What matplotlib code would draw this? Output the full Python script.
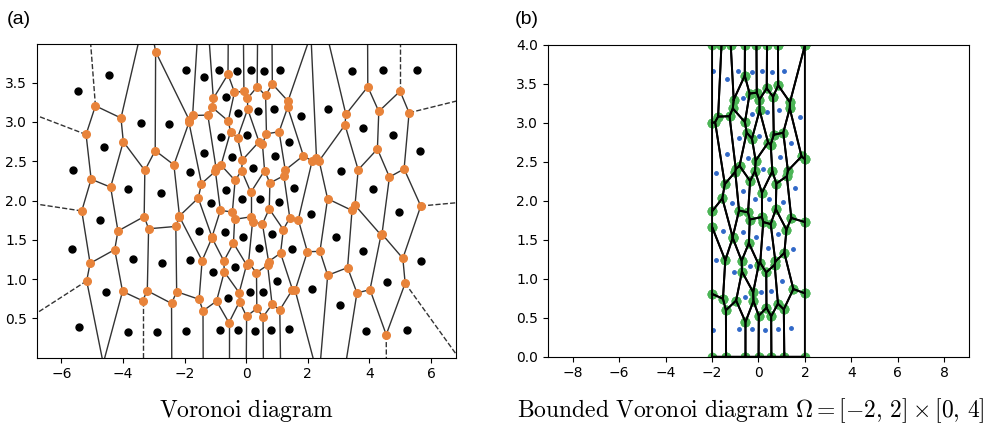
import matplotlib
matplotlib.use('Agg')
import matplotlib.pyplot as plt
import matplotlib.tri as mtri
from matplotlib.collections import LineCollection
import numpy as np

plt.rcParams['mathtext.fontset'] = 'cm'

# 生成点 (从图 (a) 读出)
pts_x = [-1.94, -1.37, -0.88, -0.30, 0.14, 0.58, 1.11, 3.44, 4.45, 5.54,
         -4.44, -5.46, -0.66, -0.28, 0.38, 0.90, 1.78, 2.65, -3.41, -2.49,
         3.80, 4.76, 5.64, -4.61, 0.03, -0.83, 1.38, -1.36, -0.47, 0.94,
         -5.61, -1.82, 0.21, 3.08, -3.85, -2.75, -0.65, 1.56, 4.13, -0.15,
         -1.14, 0.45, 1.06, 2.11, 4.97, -4.76, -1.54, -0.68, -0.12, 0.83,
         2.92, 0.40, 1.49, 3.78, -5.67, -3.66, -2.72, -1.82, 5.69, -0.36,
         -1.07, 1.00, 2.12, 4.56, 0.13, 0.55, -4.56, -0.58, 3.05, -5.42,
         -3.83, -2.90, -1.94, -0.86, -0.26, 0.28, 0.82, 1.38, 3.88, 5.21]
pts_y = [3.66, 3.57, 3.66, 3.65, 3.66, 3.65, 3.66, 3.65, 3.66, 3.66,
         3.59, 3.39, 3.32, 3.11, 3.14, 3.17, 3.07, 3.17, 2.98, 2.97,
         2.92, 2.83, 2.63, 2.68, 2.83, 2.81, 2.74, 2.60, 2.55, 2.56,
         2.39, 2.36, 2.41, 2.38, 2.14, 2.10, 2.13, 2.16, 2.14, 2.02,
         1.97, 2.02, 1.98, 1.83, 1.86, 1.75, 1.61, 1.60, 1.53, 1.58,
         1.53, 1.40, 1.38, 1.36, 1.38, 1.26, 1.21, 1.24, 1.23, 1.16,
         1.09, 0.97, 0.87, 0.96, 0.83, 0.84, 0.83, 0.76, 0.67, 0.39,
         0.33, 0.33, 0.34, 0.35, 0.35, 0.34, 0.35, 0.37, 0.335, 0.35]

# 边界框 Omega = [-2, 2] x [0, 4]
box = [-2.0, 2.0, 0.0, 4.0]

captions = [r'$\mathrm{Voronoi\ diagram}$',
            r'$\mathrm{Bounded\ Voronoi\ diagram}\ \Omega=[-2,\,2]\times[0,\,4]$']


def circumcenters(p, tris):
    a, b, c = p[tris[:, 0]], p[tris[:, 1]], p[tris[:, 2]]
    d = 2 * (a[:, 0] * (b[:, 1] - c[:, 1]) + b[:, 0] * (c[:, 1] - a[:, 1]) + c[:, 0] * (a[:, 1] - b[:, 1]))
    a2 = (a ** 2).sum(1)
    b2 = (b ** 2).sum(1)
    c2 = (c ** 2).sum(1)
    ux = (a2 * (b[:, 1] - c[:, 1]) + b2 * (c[:, 1] - a[:, 1]) + c2 * (a[:, 1] - b[:, 1])) / d
    uy = (a2 * (c[:, 0] - b[:, 0]) + b2 * (a[:, 0] - c[:, 0]) + c2 * (b[:, 0] - a[:, 0])) / d
    return np.column_stack([ux, uy])


pts = np.column_stack([pts_x, pts_y])

fig = plt.figure(figsize=(9.98, 4.36), dpi=100)
ax1 = fig.add_axes([0.0371, 0.180, 0.4198, 0.719])
ax2 = fig.add_axes([0.5488, 0.1819, 0.4224, 0.7149])

# ---- (a) 普通 Voronoi 图 ----
tri = mtri.Triangulation(pts[:, 0], pts[:, 1])
verts = circumcenters(pts, tri.triangles)
center = pts.mean(axis=0)
ptp = np.ptp(pts, axis=0)
far_len = ptp.max() * abs(ptp.max() / ptp.min())

finite, infinite = [], []
for i in range(len(tri.triangles)):
    for j in range(3):
        nb = tri.neighbors[i, j]
        p0 = tri.triangles[i, j]
        p1 = tri.triangles[i, (j + 1) % 3]
        if nb == -1:
            t = pts[p1] - pts[p0]
            t = t / np.linalg.norm(t)
            n = np.array([-t[1], t[0]])
            mid = (pts[p0] + pts[p1]) / 2
            direction = np.sign(np.dot(mid - center, n)) * n
            infinite.append([verts[i], verts[i] + direction * far_len])
        elif nb > i:
            finite.append([verts[i], verts[nb]])

ax1.add_collection(LineCollection(finite, colors='#333333', linewidths=1.0))
ax1.add_collection(LineCollection(infinite, colors='#333333', linewidths=1.0, linestyles='dashed'))
ax1.plot(pts[:, 0], pts[:, 1], 'o', color='black', markersize=5, zorder=3)
ax1.plot(verts[:, 0], verts[:, 1], 'o', color='#e8833a', markersize=5.5, zorder=3)
ax1.set_xlim(-6.79, 6.81)
ax1.set_ylim(0.003, 3.99)
ax1.set_xticks([-6, -4, -2, 0, 2, 4, 6])
ax1.set_yticks([0.5, 1.0, 1.5, 2.0, 2.5, 3.0, 3.5])

# ---- (b) 有界 Voronoi 图：镜像法 ----
inside = ((pts[:, 0] >= box[0]) & (pts[:, 0] <= box[1]) &
          (pts[:, 1] >= box[2]) & (pts[:, 1] <= box[3]))
bp = pts[inside]
mirrored = np.vstack([bp,
                      np.column_stack([2 * box[0] - bp[:, 0], bp[:, 1]]),
                      np.column_stack([2 * box[1] - bp[:, 0], bp[:, 1]]),
                      np.column_stack([bp[:, 0], 2 * box[2] - bp[:, 1]]),
                      np.column_stack([bp[:, 0], 2 * box[3] - bp[:, 1]])])
btri = mtri.Triangulation(mirrored[:, 0], mirrored[:, 1])
bverts = circumcenters(mirrored, btri.triangles)

regions = []
for k in range(len(bp)):
    owned = np.any(btri.triangles == k, axis=1)
    region = bverts[owned]
    ang = np.arctan2(region[:, 1] - bp[k, 1], region[:, 0] - bp[k, 0])
    regions.append(region[np.argsort(ang)])

ax2.plot(bp[:, 0], bp[:, 1], '.', color='#3068c8', markersize=5)
for region in regions:
    ax2.plot(region[:, 0], region[:, 1], 'o', color='#4cb556', markersize=6)
for region in regions:
    closed = np.vstack([region, region[:1]])
    ax2.plot(closed[:, 0], closed[:, 1], '-', color='black', linewidth=1.4)
ax2.set_xlim(-9.08, 9.08)
ax2.set_ylim(0, 4)
ax2.set_xticks([-8, -6, -4, -2, 0, 2, 4, 6, 8])
ax2.set_yticks(np.arange(0, 4.01, 0.5))

for ax in (ax1, ax2):
    ax.tick_params(labelsize=10)

fig.text(7 / 998, 1 - 19 / 436, '(a)', ha='left', va='center', fontsize=14, family='Liberation Sans')
fig.text(515 / 998, 1 - 19 / 436, '(b)', ha='left', va='center', fontsize=14, family='Liberation Sans')
fig.text(0.2465, 0.058, captions[0], ha='center', va='center', fontsize=17)
fig.text(0.7525, 0.058, captions[1], ha='center', va='center', fontsize=17)

plt.savefig('out.png', dpi=100)
